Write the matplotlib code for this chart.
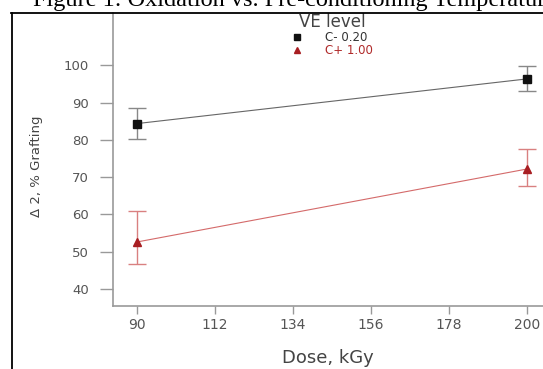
import numpy as np
import matplotlib
matplotlib.use('Agg')
import matplotlib.pyplot as plt
from matplotlib.lines import Line2D

# data
dose = [90, 200]
ve_labels = ['C- 0.20', 'C+ 1.00']
graft_low = [84.4, 96.4]    # C- 0.20
err_low_minus = [4.2, 3.3]
err_low_plus = [4.1, 3.4]
graft_high = [52.6, 72.2]   # C+ 1.00
err_high_minus = [5.9, 4.6]
err_high_plus = [8.3, 5.3]
x_ticks = [90, 112, 134, 156, 178, 200]
y_ticks = [40, 50, 60, 70, 80, 90, 100]

plt.rcParams['font.family'] = ['DejaVu Sans']

W, H = 543, 369
fig = plt.figure(figsize=(W / 100, H / 100), dpi=100)
ax = fig.add_axes([113 / W, 1 - 306 / H, 430 / W, 293 / H])

# lines between the two doses
ax.plot(dose, graft_low, color='#666666', lw=0.8, zorder=2)
ax.plot(dose, graft_high, color='#d46a6a', lw=0.8, zorder=2)

# points with error bars
ax.errorbar(dose, graft_low, yerr=[err_low_minus, err_low_plus], fmt='s', color='#111111',
            ecolor='#888888', elinewidth=1, capsize=6.8, capthick=1, markersize=5.5, zorder=3)
ax.errorbar(dose, graft_high, yerr=[err_high_minus, err_high_plus], fmt='^', color='#a81e22',
            ecolor='#d98080', elinewidth=1, capsize=6.8, capthick=1, markersize=6, zorder=3)

ax.set_xlim(83.2, 204.5)
ax.set_ylim(35.4, 114.1)
ax.set_xticks(x_ticks)
ax.set_yticks(y_ticks)
ax.tick_params(axis='x', direction='out', length=5.8, width=1, color='#999999',
               labelsize=10, labelcolor='#555555', pad=3)
ax.tick_params(axis='y', direction='out', length=9.4, width=1, color='#999999',
               labelsize=9.5, labelcolor='#555555', pad=8)
for side in ['top', 'right']:
    ax.spines[side].set_visible(False)
for side in ['left', 'bottom']:
    ax.spines[side].set_color('#999999')
    ax.spines[side].set_linewidth(1.2)

ax.set_xlabel('Dose, kGy', fontsize=13, color='#444444')
ax.xaxis.set_label_coords(0.5, -0.148)
ax.set_ylabel('Δ 2, % Grafting', fontsize=9.5, color='#444444', va='center', ha='center')
ax.yaxis.set_label_coords(-0.177, 0.476)

# legend, markers only
handles = [Line2D([], [], ls='none', marker='s', color='#111111', markersize=4.5),
           Line2D([], [], ls='none', marker='^', color='#a81e22', markersize=5)]
leg = ax.legend(handles, ve_labels, title='VE level', loc='center',
                bbox_to_anchor=(332 / W, 1 - 35 / H), bbox_transform=fig.transFigure,
                frameon=False, fontsize=8.5, title_fontsize=12, handlelength=1,
                handletextpad=1.8, labelspacing=0, borderpad=0)
for t, c in zip(leg.get_texts(), ['#333333', '#b02a2a']):
    t.set_color(c)
leg.get_title().set_color('#444444')

# document caption cut at the top, and the box frame
fig.text(33 / W, 1 - 6 / H, 'Figure 1: Oxidation vs. Pre-conditioning Temperature',
         family='Liberation Serif', fontsize=17.5, va='baseline', ha='left')
fig.add_artist(Line2D([11 / W, 1], [1 - 13 / H, 1 - 13 / H], color='black', lw=1.3))
fig.add_artist(Line2D([12 / W, 12 / W], [1 - 13 / H, 0], color='black', lw=1.3))

fig.savefig('out.png', dpi=100)
